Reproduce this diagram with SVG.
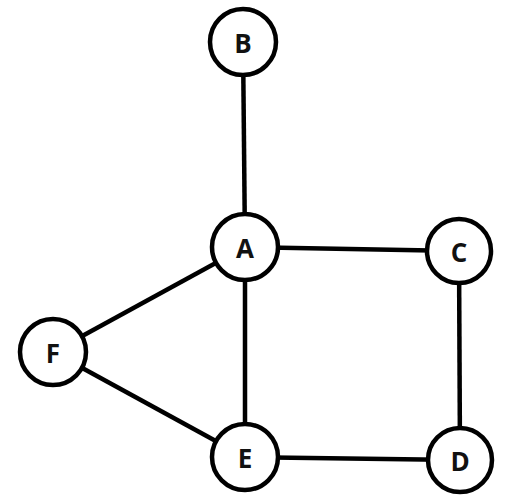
<svg xmlns="http://www.w3.org/2000/svg" width="530" height="500" viewBox="0 0 530 500">
<style>
.e{stroke:#000;stroke-width:4.5;fill:none}
.n circle{fill:#fff;stroke:#000;stroke-width:4.5}
.n text{font-family:"Open Sans","DejaVu Sans",sans-serif;font-weight:bold;font-size:26px;text-anchor:middle;dominant-baseline:central;fill:#111}
</style>
<rect width="530" height="500" fill="#fff"/>
<g id="edges">
<line class="e" x1="243" y1="42" x2="245" y2="247"/>
<line class="e" x1="245" y1="247" x2="459" y2="251"/>
<line class="e" x1="245" y1="247" x2="245" y2="457"/>
<line class="e" x1="245" y1="247" x2="53" y2="352"/>
<line class="e" x1="53" y1="352" x2="245" y2="457"/>
<line class="e" x1="245" y1="457" x2="460" y2="460"/>
<line class="e" x1="459" y1="251" x2="460" y2="460"/>
</g>
<g id="B" class="n"><circle cx="243" cy="42" r="33"/><text x="243" y="43">B</text></g>
<g id="A" class="n"><circle cx="245" cy="247" r="33"/><text x="245" y="248">A</text></g>
<g id="C" class="n"><circle cx="459" cy="251" r="32"/><text x="459" y="252">C</text></g>
<g id="F" class="n"><circle cx="53" cy="352" r="33"/><text x="53" y="353">F</text></g>
<g id="E" class="n"><circle cx="245" cy="457" r="33"/><text x="245" y="458">E</text></g>
<g id="D" class="n"><circle cx="460" cy="460" r="32"/><text x="460" y="461">D</text></g>
</svg>
